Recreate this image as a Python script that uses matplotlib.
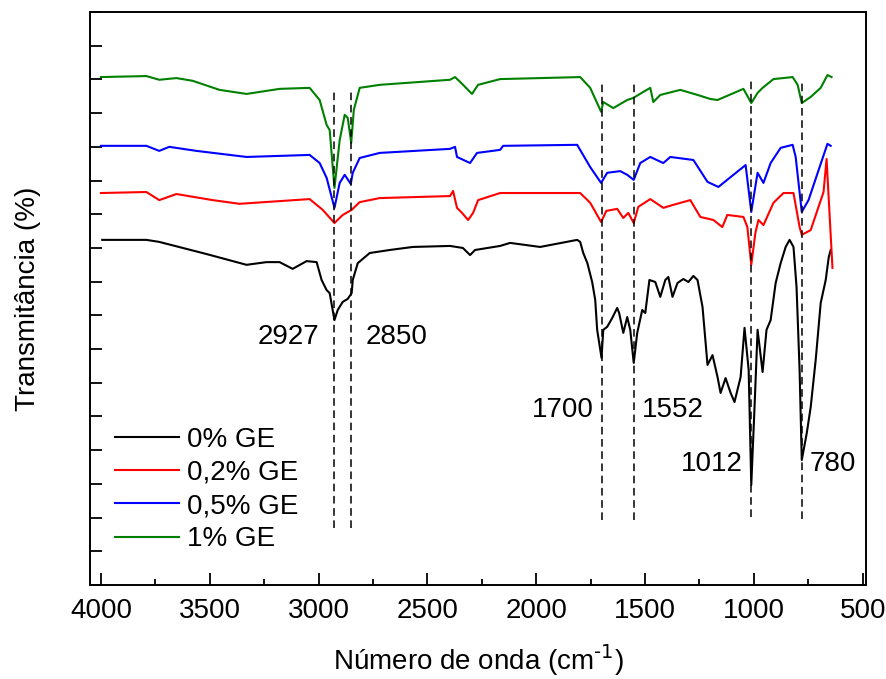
import numpy as np
import matplotlib
matplotlib.use('Agg')
import matplotlib.pyplot as plt
from matplotlib.ticker import MultipleLocator, NullFormatter

plt.rcParams['font.family'] = ['Liberation Sans', 'DejaVu Sans']
plt.rcParams['mathtext.default'] = 'regular'

# FTIR spectra (wavenumber in cm-1, transmittance in a.u., already offset)
wn_0 = [3994, 3791, 3732, 3515, 3331, 3239, 3179, 3119, 3055, 3009, 2986, 2963, 2949, 2927,
        2912, 2889, 2866, 2848, 2843, 2820, 2765, 2673, 2567, 2396, 2337, 2304, 2281, 2166,
        2120, 1982, 1812, 1798, 1784, 1765, 1743, 1729, 1720, 1700, 1692, 1674, 1651, 1628,
        1619, 1600, 1582, 1568, 1552, 1536, 1513, 1499, 1480, 1453, 1430, 1407, 1393, 1374,
        1351, 1324, 1301, 1278, 1259, 1236, 1213, 1190, 1167, 1153, 1130, 1107, 1089, 1061,
        1043, 1024, 1012, 997, 983, 960, 942, 923, 900, 877, 854, 836, 818, 804, 790, 780,
        757, 739, 716, 693, 670, 656, 647]
t_0 = [10.24, 10.24, 10.18, 9.82, 9.50, 9.58, 9.58, 9.38, 9.61, 9.58, 9.05, 8.75, 8.66, 7.86,
       8.16, 8.40, 8.49, 8.66, 9.05, 9.55, 9.85, 9.94, 10.03, 10.06, 10.00, 9.79, 9.94, 10.06,
       10.15, 10.03, 10.24, 10.18, 9.85, 9.55, 8.99, 8.46, 7.57, 6.74, 7.57, 7.66, 7.92, 8.22,
       8.07, 7.48, 7.95, 7.57, 6.59, 7.48, 8.16, 8.07, 9.05, 8.99, 8.55, 9.05, 9.14, 8.55,
       8.96, 9.08, 8.99, 9.17, 9.05, 8.25, 6.53, 6.82, 6.17, 5.70, 6.14, 5.70, 5.43, 6.17,
       7.63, 6.38, 2.97, 5.28, 7.57, 6.32, 7.57, 7.86, 8.96, 9.55, 10.03, 10.24, 10.03, 8.84, 6.38, 3.71,
       4.51, 5.28, 6.68, 8.37, 9.05, 9.73, 9.94]

wn_02 = [4000, 3791, 3732, 3653, 3487, 3363, 3179, 3041, 2981, 2927, 2889, 2848, 2811, 2719,
         2396, 2382, 2364, 2341, 2313, 2290, 2267, 2166, 1798, 1752, 1702, 1678, 1628, 1600,
         1577, 1552, 1531, 1476, 1416, 1370, 1292, 1246, 1186, 1145, 1122, 1048, 1030, 1012,
         993, 979, 956, 910, 864, 818, 790, 780, 739, 680, 666, 639]
t_02 = [11.63, 11.66, 11.42, 11.60, 11.42, 11.31, 11.39, 11.45, 11.13, 10.74, 10.98, 11.13, 11.36, 11.48,
        11.54, 11.69, 11.19, 11.04, 10.83, 11.04, 11.42, 11.63, 11.63, 11.34, 10.77, 11.10, 11.16, 10.89,
        11.04, 10.74, 11.22, 11.45, 11.19, 11.28, 11.42, 10.92, 10.83, 10.62, 10.98, 10.92, 10.62, 9.50,
        10.45, 10.83, 10.68, 11.34, 11.63, 11.63, 10.62, 10.39, 10.53, 11.66, 12.64, 9.41]

wn_05 = [4000, 3791, 3732, 3686, 3561, 3331, 3041, 2995, 2963, 2927, 2903, 2880, 2852, 2843,
         2811, 2719, 2396, 2373, 2364, 2304, 2272, 2166, 2152, 1812, 1752, 1702, 1674, 1614,
         1582, 1552, 1522, 1476, 1416, 1384, 1278, 1213, 1163, 1094, 1038, 1012, 983, 956,
         923, 877, 822, 808, 780, 749, 662, 647]
t_05 = [13.03, 13.03, 12.88, 13.00, 12.88, 12.70, 12.76, 12.52, 12.08, 11.19, 11.93, 12.17, 11.90, 12.23,
        12.67, 12.82, 12.94, 13.00, 12.70, 12.52, 12.82, 12.91, 13.03, 13.06, 12.40, 11.93, 12.23, 12.28,
        12.17, 12.02, 12.52, 12.70, 12.52, 12.70, 12.61, 11.96, 11.81, 12.17, 12.46, 11.07, 12.23, 11.93,
        12.52, 12.97, 13.06, 12.70, 11.07, 11.42, 13.09, 13.03]

wn_1 = [4000, 3791, 3732, 3653, 3579, 3455, 3331, 3179, 3041, 2995, 2963, 2949, 2927, 2903,
        2880, 2866, 2850, 2838, 2811, 2719, 2396, 2373, 2350, 2295, 2267, 2166, 1798, 1752,
        1702, 1692, 1646, 1582, 1554, 1508, 1476, 1462, 1430, 1338, 1259, 1200, 1167, 1048,
        1012, 983, 960, 910, 822, 799, 780, 739, 693, 662, 643]
t_1 = [15.07, 15.10, 14.99, 15.04, 14.96, 14.69, 14.57, 14.72, 14.75, 14.39, 13.65, 13.50, 11.78, 13.20,
       13.95, 13.86, 13.12, 14.10, 14.75, 14.84, 14.99, 15.07, 14.93, 14.57, 14.84, 15.01, 15.07, 14.75,
       14.04, 14.33, 14.15, 14.39, 14.45, 14.63, 14.75, 14.33, 14.54, 14.69, 14.54, 14.42, 14.39, 14.72,
       14.30, 14.60, 14.75, 15.01, 15.07, 14.84, 14.30, 14.48, 14.75, 15.13, 15.07]

labels = ['0% GE', '0,2% GE', '0,5% GE', '1% GE']
colors = ['black', 'red', 'blue', 'green']

# marked bands
bands = [2927, 2850, 1700, 1552, 1012, 780]
band_top = [14.75, 14.75, 14.93, 14.93, 15.0, 14.99]
band_bottom = [1.69, 1.69, 1.93, 1.93, 2.02, 1.96]
band_text_x = [2995, 2500, 1735, 1230, 1050, 532]
band_text_y = [7.35, 7.35, 5.18, 5.18, 3.6, 3.6]

fig = plt.figure(figsize=(8.87, 6.79), dpi=100)
ax = fig.add_axes([0.1015, 0.1384, 0.8748, 0.8439])

for wn, t, lab, c in zip([wn_0, wn_02, wn_05, wn_1], [t_0, t_02, t_05, t_1], labels, colors):
    ax.plot(wn, t, color=c, lw=1.5, label=lab)

ax.vlines(bands, band_bottom, band_top, colors='black', linestyles=(0, (5, 3)), lw=1.1)
for b, x, y in zip(bands, band_text_x, band_text_y):
    ax.text(x, y, str(b), fontsize=20, ha='right', va='center')

ax.set_xlim(4050, 485)
ax.set_ylim(0, 17)
ax.xaxis.set_major_locator(MultipleLocator(500))
ax.xaxis.set_minor_locator(MultipleLocator(250))
ax.yaxis.set_major_locator(MultipleLocator(1))
ax.yaxis.set_major_formatter(NullFormatter())
ax.tick_params(axis='both', which='major', direction='in', length=8.5, width=1.3, labelsize=20)
ax.tick_params(axis='x', which='minor', direction='in', length=4.5, width=1.3)
ax.tick_params(axis='x', pad=9)
for s in ax.spines.values():
    s.set_linewidth(1.4)

ax.set_xlabel('Número de onda (cm$^{\\text{-1}}$)', fontsize=20, labelpad=14)
ax.set_ylabel('Transmitância (%)', fontsize=20, labelpad=32)

ax.legend(loc='upper left', bbox_to_anchor=(0.0, 0.32), frameon=False, fontsize=20,
          handlelength=2.3, handletextpad=0.3, labelspacing=0.26, borderaxespad=0.5)

fig.savefig('out.png', dpi=100)
